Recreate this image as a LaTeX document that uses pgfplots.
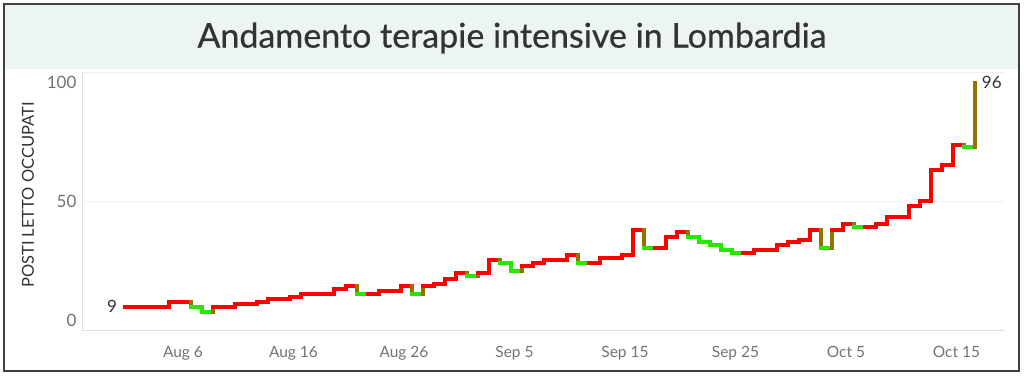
\documentclass[border=0pt]{standalone}
\usepackage{fontspec}
\setmainfont{Lato}
\newfontfamily\titlefont{Lato}[FakeBold=0.6]
\usepackage{pgfplots}
\usepackage{pgfplotstable}
\pgfplotsset{compat=1.18}
\definecolor{bandbg}{RGB}{237,245,243}
\definecolor{txt}{RGB}{51,51,51}
\definecolor{ticktxt}{RGB}{115,115,115}

% d = days from Aug 6 (points at 17:00 of each day), y = occupied ICU beds, c = 1 up/equal (red), 0 down (green)
\pgfplotstableread{
d y c
-6 9 1
-5 9 1
-4 9 1
-3 9 1
-2 11 1
-1 11 1
0 9 0
1 7 0
2 9 1
3 9 1
4 10 1
5 10 1
6 11 1
7 12 1
8 12 1
9 13 1
10 14 1
11 14 1
12 14 1
13 16 1
14 17 1
15 14 0
16 14 1
17 15 1
18 15 1
19 17 1
20 14 0
21 17 1
22 18 1
23 20 1
24 22 1
25 21 0
26 22 1
27 27 1
28 26 0
29 23 0
30 25 1
31 26 1
32 27 1
33 27 1
34 29 1
35 26 0
36 26 1
37 28 1
38 28 1
39 29 1
40 39 1
41 32 0
42 32 1
43 36 1
44 38 1
45 36 0
46 34 0
47 33 0
48 31 0
49 30 0
50 30 1
51 31 1
52 31 1
53 33 1
54 34 1
55 35 1
56 39 1
57 32 0
58 39 1
59 41 1
60 40 0
61 40 1
62 41 1
63 44 1
64 44 1
65 48 1
66 50 1
67 62 1
68 64 1
69 72 1
70 71 0
71 96 1
}\daily

\begin{document}
\begin{tikzpicture}
\path[use as bounding box] (0,0) rectangle (1024pt,375pt);
\fill[white] (0,0) rectangle (1024pt,375pt);
\fill[bandbg] (4pt,306pt) rectangle (1019pt,371pt);
\draw[line width=1.5pt, black!75] (4pt,4pt) rectangle (1019pt,371pt);
\node[font=\titlefont\fontsize{34}{40}\selectfont, text=txt] at (512pt,337pt) {Andamento terapie intensive in Lombardia};
\node[rotate=90, font=\fontsize{16.5}{19}\selectfont, text=txt] at (28pt,180pt) {POSTI LETTO OCCUPATI};

% build the step-line coordinates from the table
\pgfplotstablegetrowsof{\daily}
\pgfmathtruncatemacro\nrows{\pgfplotsretval}
\pgfmathtruncatemacro\npen{\nrows-2}
\pgfmathtruncatemacro\nlast{\nrows-1}
\gdef\stepcoords{}
\foreach \i in {0,...,\npen}{%
  \pgfmathtruncatemacro\j{\i+1}%
  \pgfplotstablegetelem{\i}{d}\of\daily \pgfmathsetmacro\xa{\pgfplotsretval+0.71}%
  \pgfplotstablegetelem{\j}{d}\of\daily \pgfmathsetmacro\xb{\pgfplotsretval+0.71}%
  \pgfplotstablegetelem{\i}{y}\of\daily \let\ya\pgfplotsretval
  \pgfplotstablegetelem{\i}{c}\of\daily \let\ca\pgfplotsretval
  \xdef\stepcoords{\stepcoords (\xa,\ya) [\ca] (\xb,\ya) [\ca]}%
}
\pgfplotstablegetelem{\nlast}{d}\of\daily \pgfmathsetmacro\xl{\pgfplotsretval+0.71}
\pgfplotstablegetelem{\nlast}{y}\of\daily \let\yl\pgfplotsretval
\pgfplotstablegetelem{\nlast}{c}\of\daily \let\cl\pgfplotsretval
\xdef\stepcoords{\stepcoords (\xl,\yl) [\cl]}

\begin{axis}[
  at={(82pt,45pt)}, anchor=south west,
  scale only axis, width=923pt, height=257.5pt,
  xmin=-9.14, xmax=74.39, ymin=0, ymax=100,
  axis x line*=bottom, axis y line*=left,
  axis line style={draw=black!12, line width=1pt},
  ymajorgrids, grid style={draw=black!6, line width=1pt},
  xtick={0,10,...,70},
  xticklabels={Aug 6,Aug 16,Aug 26,Sep 5,Sep 15,Sep 25,Oct 5,Oct 15},
  ytick={0,50,100},
  yticklabels={{\raisebox{10pt}[\height][\depth]{0}},50,{\raisebox{-10pt}[\height][\depth]{100}}},
  major tick length=0pt,
  /pgf/number format/assume math mode=true,
  x tick label style={font=\fontsize{15.5}{18}\selectfont, text=ticktxt, yshift=-13pt},
  y tick label style={font=\fontsize{17}{20}\selectfont, text=ticktxt, xshift=-2pt},
  colormap={rg}{rgb255=(40,230,0) rgb255=(255,0,0)},
  point meta min=0, point meta max=1,
  clip=false,
]
\def\plotstep{\addplot[mesh, point meta=explicit, line width=4pt, line cap=rect] coordinates}
\expandafter\plotstep\expandafter{\stepcoords};
\node[anchor=east, text=txt, font=\fontsize{17}{20}\selectfont, xshift=-4pt] at (axis cs:-5.29,9) {9};
\node[anchor=west, text=txt, font=\fontsize{17}{20}\selectfont, xshift=3pt] at (axis cs:71.71,96) {96};
\end{axis}
\end{tikzpicture}
\end{document}
